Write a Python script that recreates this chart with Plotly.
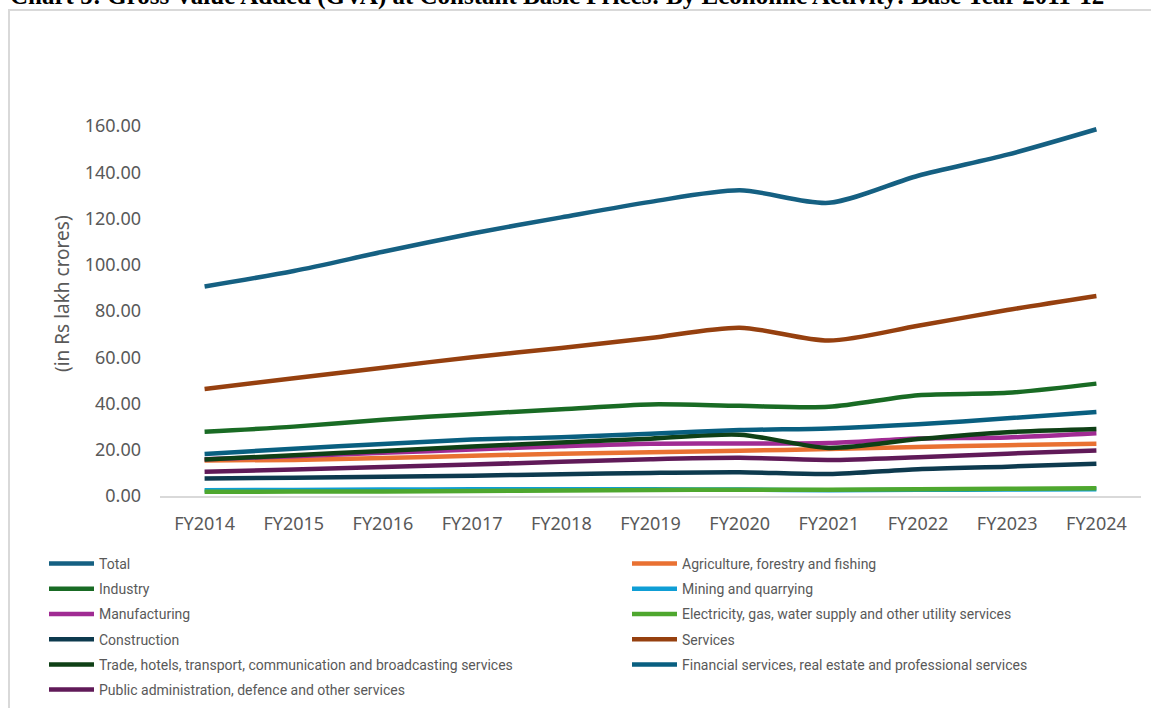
import plotly.graph_objects as go

# Fiscal years on the category axis
years = ["FY2014", "FY2015", "FY2016", "FY2017", "FY2018", "FY2019",
         "FY2020", "FY2021", "FY2022", "FY2023", "FY2024"]

# GVA by economic activity, Rs lakh crore (constant 2011-12 prices)
total = [90.6, 97.3, 105.6, 113.5, 120.5, 127.2, 132.2, 126.8, 138.5, 147.6, 158.6]
agriculture = [15.4, 15.6, 16.4, 17.4, 18.3, 18.9, 19.6, 20.3, 21.2, 22.0, 22.6]
industry = [27.8, 30.0, 33.0, 35.4, 37.5, 39.6, 39.0, 38.6, 43.6, 44.6, 48.6]
mining = [2.5, 2.6, 2.8, 2.9, 2.9, 2.9, 2.8, 2.5, 2.7, 2.8, 2.9]
manufacturing = [15.9, 17.2, 18.7, 20.1, 21.5, 22.6, 22.7, 22.9, 24.9, 25.3, 27.1]
electricity = [1.8, 1.9, 2.0, 2.2, 2.4, 2.6, 2.7, 2.7, 2.9, 3.1, 3.3]
construction = [7.6, 7.9, 8.3, 8.8, 9.4, 10.0, 10.3, 9.5, 11.6, 12.7, 14.0]
services = [46.3, 50.9, 55.5, 60.0, 64.0, 68.3, 72.8, 67.2, 73.6, 80.4, 86.5]
trade = [15.8, 17.6, 19.5, 21.4, 23.1, 24.8, 26.5, 20.8, 24.6, 27.6, 29.0]
financial = [18.2, 20.4, 22.5, 24.4, 25.4, 26.9, 28.5, 29.2, 31.0, 33.6, 36.3]
public_admin = [10.5, 11.5, 12.5, 13.6, 14.8, 15.9, 16.5, 15.6, 16.8, 18.3, 19.7]

series = [
    ("Total", total, "#156082", "legend"),
    ("Agriculture, forestry and fishing", agriculture, "#E97132", "legend2"),
    ("Industry", industry, "#196B24", "legend"),
    ("Mining and quarrying", mining, "#0F9ED5", "legend2"),
    ("Manufacturing", manufacturing, "#A02B93", "legend"),
    ("Electricity, gas, water supply and other utility services", electricity, "#4EA72E", "legend2"),
    ("Construction", construction, "#0D3A4E", "legend"),
    ("Services", services, "#96400F", "legend2"),
    ("Trade, hotels, transport, communication and broadcasting services", trade, "#0F4016", "legend"),
    ("Financial services, real estate and professional services", financial, "#095F80", "legend2"),
    ("Public administration, defence and other services", public_admin, "#601A58", "legend"),
]

fig = go.Figure()
for name, vals, color, leg in series:
    fig.add_trace(go.Scatter(
        x=years, y=vals, name=name, mode="lines",
        line=dict(color=color, width=4.5, shape="spline", smoothing=0.8),
        legend=leg, legendgroup=name,
    ))

W, H = 1151, 708
L, T = 160, 126
PW, PH = 981, 370


def px_x(px):
    return (px - L) / PW


def px_y(py):
    return (T + PH - py) / PH


legend_common = dict(
    xref="container", yref="container", xanchor="left", yanchor="top",
    orientation="v", traceorder="grouped", tracegroupgap=4,
    itemwidth=45, bgcolor="rgba(0,0,0,0)",
    font=dict(family="Roboto", size=14, color="#595959"),
)

fig.update_layout(
    width=W, height=H,
    margin=dict(l=L, r=W - L - PW, t=T, b=H - T - PH, autoexpand=False),
    paper_bgcolor="white", plot_bgcolor="white",
    showlegend=True,
    legend=dict(x=44 / W, y=1 - 548 / H, **legend_common),
    legend2=dict(x=627 / W, y=1 - 548 / H, **legend_common),
    xaxis=dict(
        type="category", range=[-0.5, 10.5], automargin=False,
        showgrid=False, zeroline=False, showline=True,
        linecolor="#D9D9D9", linewidth=1.5, ticks="",
        ticklabelstandoff=11,
        tickfont=dict(family="Noto Sans", size=18, color="#595959"),
    ),
    yaxis=dict(
        range=[0, 160], dtick=20, tickformat=".2f", automargin=False,
        showgrid=False, zeroline=False, showline=False, ticks="",
        ticklabelstandoff=18,
        tickfont=dict(family="Noto Sans", size=18, color="#595959"),
    ),
    shapes=[dict(
        type="rect", xref="paper", yref="paper", layer="below",
        x0=px_x(9), x1=px_x(1170), y0=px_y(730), y1=px_y(10),
        line=dict(color="#D9D9D9", width=2), fillcolor="rgba(0,0,0,0)",
    )],
    annotations=[
        dict(
            text="<b>Chart 5: Gross Value Added (GVA) at Constant Basic Prices: "
                 "By Economic Activity: Base Year 2011-12</b>",
            xref="paper", yref="paper", x=px_x(8), y=px_y(-3.5),
            xanchor="left", yanchor="middle", showarrow=False,
            font=dict(family="Liberation Serif", size=25, color="black"),
        ),
        dict(
            text="(in Rs lakh crores)", textangle=-90,
            xref="paper", yref="paper", x=px_x(62), y=px_y(294),
            xanchor="center", yanchor="middle", showarrow=False,
            font=dict(family="Noto Sans", size=19, color="#595959"),
        ),
    ],
)

fig.write_html("out.html")
